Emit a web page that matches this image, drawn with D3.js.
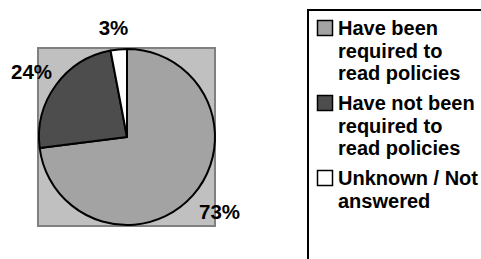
<!DOCTYPE html>
<html><head><meta charset="utf-8">
<script src="https://cdn.jsdelivr.net/npm/d3@7"></script>
<style>body{margin:0;background:#fff}svg{display:block}</style>
</head><body>
<svg id="c" width="481" height="259"></svg>
<script>
const categories = ["Have been required to read policies", "Have not been required to read policies", "Unknown / Not answered"];
const legendLines = [["Have been", "required to", "read policies"], ["Have not been", "required to", "read policies"], ["Unknown / Not", "answered"]];
const values = [73, 24, 3];
const labels = ["73%", "24%", "3%"];
const colors = ["#a3a3a3", "#4d4d4d", "#ffffff"];

const svg = d3.select("#c");
const font = "'Liberation Sans', Arial, sans-serif";
const cx = 127, cy = 137, r = 88;

// plot area
svg.append("rect").attr("x", 38).attr("y", 48).attr("width", 177).attr("height", 178)
  .attr("fill", "#c0c0c0").attr("stroke", "#808080").attr("stroke-width", 2);

const pie = d3.pie().sort(null).value(d => d)(values);
const arc = d3.arc().innerRadius(0).outerRadius(r);
const g = svg.append("g").attr("transform", `translate(${cx},${cy})`);
g.selectAll("path").data(pie).join("path")
  .attr("d", arc).attr("fill", (d, i) => colors[i])
  .attr("stroke", "#000").attr("stroke-width", 2).attr("stroke-linejoin", "round");

// labels
const labelPos = [[219.5, 219], [31.5, 79], [113.5, 35]];
svg.selectAll("text.lbl").data(labels).join("text").attr("class", "lbl")
  .attr("x", (d, i) => labelPos[i][0]).attr("y", (d, i) => labelPos[i][1])
  .attr("text-anchor", "middle").attr("font-family", font).attr("font-weight", "bold")
  .attr("font-size", 20.5).text(d => d);

// legend
svg.append("rect").attr("x", 308).attr("y", 10).attr("width", 200).attr("height", 300)
  .attr("fill", "#fff").attr("stroke", "#000").attr("stroke-width", 2);
const itemY = [35, 110, 185];
const lg = svg.selectAll("g.item").data(categories).join("g").attr("class", "item");
lg.append("rect").attr("x", 317.5).attr("y", (d, i) => itemY[i] - 14.5).attr("width", 15).attr("height", 15)
  .attr("fill", (d, i) => colors[i]).attr("stroke", "#000").attr("stroke-width", 1.5);
lg.each(function(d, i) {
  const t = d3.select(this).append("text").attr("font-family", font).attr("font-weight", "bold")
    .attr("font-size", 20).attr("fill", "#000");
  legendLines[i].forEach((ln, j) => {
    t.append("tspan").attr("x", 338).attr("y", itemY[i] + j * 22.5).text(ln);
  });
});
</script>
</body></html>
